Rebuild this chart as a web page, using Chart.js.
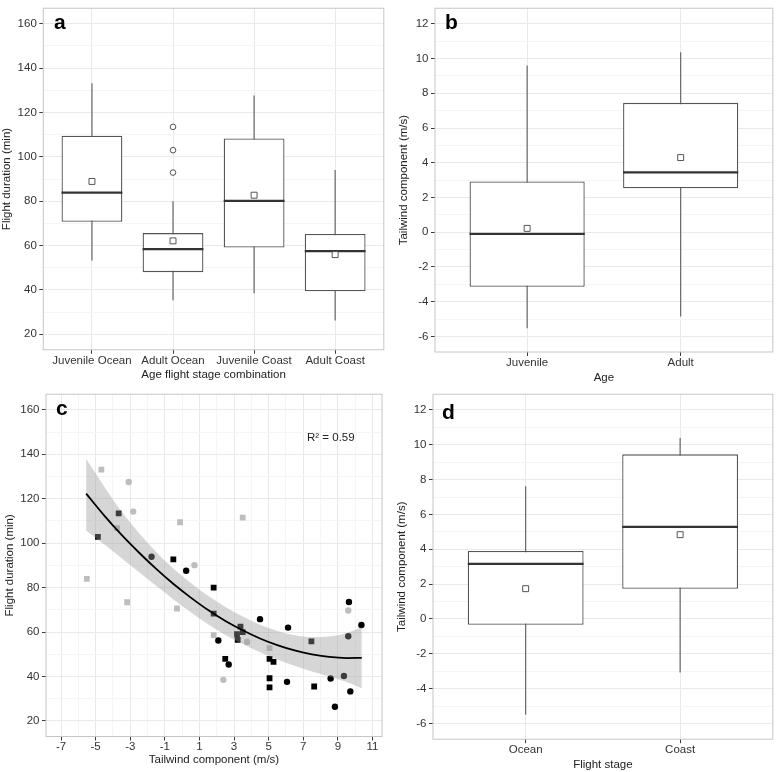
<!DOCTYPE html>
<html>
<head>
<meta charset="utf-8">
<script src="https://cdn.jsdelivr.net/npm/chart.js@4.4.1/dist/chart.umd.min.js"></script>
<style>
  body { margin: 0; background: #fff; }
  #fig { position: relative; width: 778px; height: 772px; font-family: "Liberation Sans", Arial, Helvetica, sans-serif; }
  #fig canvas { position: absolute; }
  .tag { position: absolute; font-size: 21px; font-weight: bold; line-height: 1; color: #000; }
  .note { position: absolute; font-size: 11.5px; line-height: 1; color: #222; white-space: nowrap; }
</style>
</head>
<body>
<div id="fig">
  <canvas id="chartA" width="389" height="386" style="left:0;top:0"></canvas>
  <canvas id="chartB" width="390" height="386" style="left:388px;top:0"></canvas>
  <canvas id="chartC" width="389" height="386" style="left:0;top:386px"></canvas>
  <canvas id="chartD" width="390" height="386" style="left:388px;top:386px"></canvas>
  <div class="tag" style="left:54px;top:11px">a</div>
  <div class="tag" style="left:445px;top:11px">b</div>
  <div class="tag" style="left:56px;top:397px">c</div>
  <div class="tag" style="left:442px;top:401px">d</div>
  <div class="note" style="left:307px;top:432px">R² = 0.59</div>
</div>
<script>
// ---- panel a: flight duration by age / flight stage ----
const comboLabels = ["Juvenile Ocean", "Adult Ocean", "Juvenile Coast", "Adult Coast"];
const comboLow = [53.2, 35.3, 38.5, 26.2];
const comboQ1 = [70.7, 48.0, 59.1, 39.4];
const comboMedian = [83.9, 58.4, 80.1, 57.5];
const comboQ3 = [109.5, 65.6, 108.3, 65.2];
const comboHigh = [133.2, 80.0, 127.7, 94.1];
const comboMean = [88.9, 62.1, 82.7, 55.9];
const comboOutliers = [[], [113.5, 103.0, 92.9], [], []];

// ---- panel b: tailwind by age ----
const ageLabels = ["Juvenile", "Adult"];
const ageLow = [-5.53, -4.85];
const ageQ1 = [-3.14, 2.53];
const ageMedian = [-0.1, 3.45];
const ageQ3 = [2.92, 7.45];
const ageHigh = [9.6, 10.37];
const ageMean = [0.22, 4.3];

// ---- panel d: tailwind by flight stage ----
const stageLabels = ["Ocean", "Coast"];
const stageLow = [-5.49, -3.07];
const stageQ1 = [-0.33, 1.74];
const stageMedian = [3.16, 5.29];
const stageQ3 = [3.9, 9.45];
const stageHigh = [7.62, 10.39];
const stageMean = [1.74, 4.84];

// ---- panel c: flight duration vs tailwind ----
const blackSquares = [[-4.87, 102.8], [-3.67, 113.4], [-0.51, 92.7], [1.82, 80.0], [1.82, 68.3], [3.37, 62.4],
  [3.17, 59.0], [3.5, 60.0], [3.21, 56.5], [2.49, 47.9], [5.05, 47.9], [5.28, 46.6], [5.05, 39.2], [5.05, 35.1],
  [7.47, 55.8], [7.63, 35.5]];
const blackCircles = [[-1.77, 93.9], [0.23, 87.6], [2.09, 56.2], [2.69, 45.4], [4.5, 65.8], [6.12, 62.0],
  [6.06, 37.6], [8.58, 39.1], [8.83, 26.4], [9.35, 40.2], [9.6, 58.1], [9.72, 33.3], [9.64, 73.5], [10.36, 63.2]];
const greySquares = [[-5.51, 83.9], [-4.67, 133.1], [-3.76, 106.8], [-3.18, 73.4], [-0.12, 109.4],
  [-0.3, 70.6], [3.5, 111.5], [1.82, 58.6], [5.05, 52.8]];
const greyCircles = [[-3.09, 127.5], [-2.83, 114.2], [0.71, 90.1], [3.75, 55.5], [2.38, 38.5], [9.6, 69.7]];

const fitX = [-5.55, -4.5, -3.5, -2.5, -1.5, -0.5, 0.5, 1.5, 2.5, 3.5, 4.5, 5.5, 6.5, 7.5, 8.5, 9.5, 10.38];
const fitY = [122.3, 112.4, 103.7, 95.8, 88.4, 81.6, 75.5, 69.9, 65.0, 60.8, 57.1, 54.1, 51.7, 50.0, 48.8, 48.3, 48.4];
const fitUpper = [138.0, 125.4, 114.2, 104.6, 96.0, 88.5, 82.1, 76.3, 71.3, 67.0, 63.3, 60.5, 58.6, 57.8, 58.0, 59.6, 62.2];
const fitLower = [105.7, 99.4, 93.2, 87.0, 80.8, 74.7, 68.9, 63.5, 58.7, 54.6, 50.9, 47.7, 44.8, 42.2, 40.0, 37.5, 34.6];

// tick values
const durationTicks = [20, 30, 40, 50, 60, 70, 80, 90, 100, 110, 120, 130, 140, 150, 160];
const tailwindTicks = [-6, -5, -4, -3, -2, -1, 0, 1, 2, 3, 4, 5, 6, 7, 8, 9, 10, 11, 12];
const windXTicks = [-7, -6, -5, -4, -3, -2, -1, 0, 1, 2, 3, 4, 5, 6, 7, 8, 9, 10, 11];

const FONT = '"Liberation Sans", Arial, Helvetica, sans-serif';
const gridMajor = '#e9e9e9';
const gridMinor = '#f5f5f5';
const tickDark = '#3c3c3c';
const boxHalf = 0.375;

// light grey frame round the plot area (top and right included)
const framePlugin = {
  id: 'frame',
  afterDraw(chart) {
    const { ctx, chartArea: a } = chart;
    ctx.save();
    ctx.strokeStyle = '#c6c6c6';
    ctx.lineWidth = 1;
    ctx.strokeRect(a.left, a.top, a.right - a.left, a.bottom - a.top);
    ctx.restore();
  }
};

function makeAxis(o) {
  const major = v => o.isMajor(v);
  return {
    type: 'linear',
    min: o.min,
    max: o.max,
    offset: false,
    afterBuildTicks: axis => { axis.ticks = o.values.map(v => ({ value: v })); },
    afterFit: axis => {
      if (o.width) axis.width = o.width;
      if (o.height) axis.height = o.height;
    },
    ticks: {
      autoSkip: false, maxRotation: 0, minRotation: 0, padding: o.pad,
      color: '#333', font: { family: FONT, size: 11.5, lineHeight: 1 },
      callback: o.label
    },
    grid: {
      offset: false,
      lineWidth: 1,
      tickLength: 4,
      color: c => (c.tick && major(c.tick.value)) ? gridMajor : gridMinor,
      tickColor: c => (c.tick && major(c.tick.value)) ? tickDark : 'rgba(0,0,0,0)'
    },
    border: { display: false },
    title: { display: true, text: o.title, color: '#222', padding: 0, font: { family: FONT, size: 11.5, lineHeight: 1.2 } }
  };
}

function boxPanel(id, cats, low, q1, med, q3, high, mean, outliers, yOpts, xOpts, pad) {
  const whiskers = [], boxes = [], medians = [], means = [], outs = [];
  cats.forEach((c, i) => {
    const x = i + 1;
    whiskers.push({ x: x, y: low[i] }, { x: x, y: high[i] }, { x: x, y: null });
    boxes.push({ x: x, y: [q1[i], q3[i]] });
    medians.push({ x: x - boxHalf, y: med[i] }, { x: x + boxHalf, y: med[i] }, { x: x, y: null });
    means.push({ x: x, y: mean[i] });
    (outliers[i] || []).forEach(v => outs.push({ x: x, y: v }));
  });
  const ticks = cats.map((c, i) => i + 1);
  return new Chart(document.getElementById(id), {
    type: 'bar',
    data: {
      datasets: [
        { type: 'scatter', data: means, order: 0, pointStyle: 'rect', pointRadius: 4.2, backgroundColor: '#fff', borderColor: '#555', borderWidth: 1 },
        { type: 'scatter', data: outs, order: 1, pointStyle: 'circle', pointRadius: 2.8, backgroundColor: '#fff', borderColor: '#555', borderWidth: 1 },
        { type: 'line', data: medians, order: 2, borderColor: '#333', borderWidth: 2.2, pointRadius: 0, spanGaps: false },
        { type: 'bar', data: boxes, order: 3, backgroundColor: '#fff', borderColor: '#555', borderWidth: 1.3, borderSkipped: false, categoryPercentage: 1, barPercentage: 0.75 },
        { type: 'line', data: whiskers, order: 4, borderColor: '#666', borderWidth: 1.2, pointRadius: 0, spanGaps: false }
      ]
    },
    options: {
      responsive: false,
      animation: false,
      events: [],
      layout: { padding: pad },
      plugins: { legend: { display: false }, tooltip: { enabled: false } },
      scales: {
        x: makeAxis(Object.assign({
          min: 0.4, max: cats.length + 0.6, values: ticks, isMajor: () => true,
          label: v => cats[v - 1] || '', pad: 1
        }, xOpts)),
        y: makeAxis(yOpts)
      }
    },
    plugins: [framePlugin]
  });
}

const isDurMajor = v => v % 20 === 0;
const isWindMajor = v => Math.abs(v % 2) === 0;

boxPanel('chartA', comboLabels, comboLow, comboQ1, comboMedian, comboQ3, comboHigh, comboMean, comboOutliers,
  { min: 13, max: 167, values: durationTicks, isMajor: isDurMajor, label: v => isDurMajor(v) ? String(v) : '',
    title: 'Flight duration (min)', width: 43.3, pad: 2.5 },
  { title: 'Age flight stage combination', height: 32.15 },
  { left: 0, top: 3.2, right: 5, bottom: 4.1 });

boxPanel('chartB', ageLabels, ageLow, ageQ1, ageMedian, ageQ3, ageHigh, ageMean, [],
  { min: -6.9, max: 12.9, values: tailwindTicks, isMajor: isWindMajor, label: v => isWindMajor(v) ? String(v) : '',
    title: 'Tailwind component (m/s)', width: 37.9, pad: 2.5 },
  { title: 'Age', height: 32.6 },
  { left: 9.1, top: 0.7, right: 2, bottom: 1.4 });

boxPanel('chartD', stageLabels, stageLow, stageQ1, stageMedian, stageQ3, stageHigh, stageMean, [],
  { min: -6.9, max: 12.9, values: tailwindTicks, isMajor: isWindMajor, label: v => isWindMajor(v) ? String(v) : '',
    title: 'Tailwind component (m/s)', width: 37.9, pad: 2.5 },
  { title: 'Flight stage', height: 32.7 },
  { left: 7.1, top: 3.8, right: 3, bottom: 0.1 });

// scatter with quadratic fit and its confidence band
const toPts = arr => arr.map(p => ({ x: p[0], y: p[1] }));
const isOdd = v => Math.abs(v % 2) === 1;

new Chart(document.getElementById('chartC'), {
  type: 'scatter',
  data: {
    datasets: [
      { type: 'line', data: fitX.map((x, i) => ({ x: x, y: fitY[i] })), order: 0, borderColor: '#000', borderWidth: 1.8,
        pointRadius: 0, cubicInterpolationMode: 'monotone', fill: false },
      { type: 'line', data: fitX.map((x, i) => ({ x: x, y: fitUpper[i] })), order: 1, borderColor: 'rgba(0,0,0,0)',
        pointRadius: 0, cubicInterpolationMode: 'monotone', fill: '+1', backgroundColor: 'rgba(153,153,153,0.4)' },
      { type: 'line', data: fitX.map((x, i) => ({ x: x, y: fitLower[i] })), order: 2, borderColor: 'rgba(0,0,0,0)',
        pointRadius: 0, cubicInterpolationMode: 'monotone', fill: false },
      { data: toPts(blackSquares), order: 3, pointStyle: 'rect', pointRadius: 4.1, backgroundColor: '#000', borderWidth: 0 },
      { data: toPts(blackCircles), order: 4, pointStyle: 'circle', pointRadius: 3.2, backgroundColor: '#000', borderWidth: 0 },
      { data: toPts(greySquares), order: 5, pointStyle: 'rect', pointRadius: 4.1, backgroundColor: '#bdbdbd', borderWidth: 0 },
      { data: toPts(greyCircles), order: 6, pointStyle: 'circle', pointRadius: 3.2, backgroundColor: '#bdbdbd', borderWidth: 0 }
    ]
  },
  options: {
    responsive: false,
    animation: false,
    events: [],
    layout: { padding: { left: 3.1, top: 3.2, right: 7, bottom: 5.1 } },
    plugins: { legend: { display: false }, tooltip: { enabled: false } },
    scales: {
      x: makeAxis({ min: -7.87, max: 11.55, values: windXTicks, isMajor: isOdd, label: v => isOdd(v) ? String(v) : '',
        title: 'Tailwind component (m/s)', height: 30.4, pad: 1 }),
      y: makeAxis({ min: 13, max: 167, values: durationTicks, isMajor: isDurMajor, label: v => isDurMajor(v) ? String(v) : '',
        title: 'Flight duration (min)', width: 42.9, pad: 2.5 })
    }
  },
  plugins: [framePlugin]
});
</script>
</body>
</html>
